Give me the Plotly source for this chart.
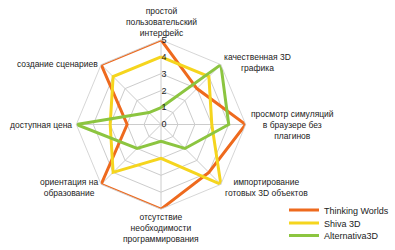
import plotly.graph_objects as go

categories = [
    "простой<br>пользовательский<br>интерфейс",
    "качественная 3D<br>графика",
    "просмотр симуляций<br>в браузере без<br>плагинов",
    "импортирование<br>готовых 3D объектов",
    "отсутствие<br>необходимости<br>программирования",
    "ориентация на<br>образование",
    "доступная цена",
    "создание сценариев",
]
series_names = ["Thinking Worlds", "Shiva 3D", "Alternativa3D"]
thinking_worlds = [5, 3, 5, 4, 5, 5, 2, 5]
shiva_3d = [4, 4, 3, 5, 2, 4, 3, 4]
alternativa_3d = [1, 5, 4, 2, 1, 2, 5, 1]
radial_ticks = [0, 1, 2, 3, 4, 5]

colors = ["#EE6A1E", "#F5D51E", "#8CC540"]
theta_ids = [f"c{i}" for i in range(len(categories))]
legend_ids = ["legend", "legend2", "legend3"]

fig = go.Figure()
for name, vals, col, lg in zip(series_names, [thinking_worlds, shiva_3d, alternativa_3d], colors, legend_ids):
    fig.add_trace(go.Scatterpolar(
        r=vals + vals[:1], theta=theta_ids + theta_ids[:1], mode="lines", name=name,
        line=dict(color=col, width=3), hoverinfo="skip", legend=lg, showlegend=True))

W, H = 395, 250
label_pos = [
    (161, 22), (257, 63), (292, 126), (266, 188),
    (161, 229), (69, 188), (41, 126), (57, 64),
]
for text, (px, py) in zip(categories, label_pos):
    fig.add_annotation(x=px / W, y=1 - py / H, xref="paper", yref="paper", text=text,
                       showarrow=False, font=dict(family="Liberation Sans, Arial", size=8.5, color="#222"),
                       align="center", xanchor="center", yanchor="middle")

cx, cy, R = 161, 125, 85
legend_y = [210, 223, 236]
leg_common = dict(xanchor="left", yanchor="middle", font=dict(size=9, color="#222"),
                  bgcolor="rgba(0,0,0,0)", itemwidth=30)
fig.update_layout(
    width=W, height=H, margin=dict(l=0, r=0, t=0, b=0), showlegend=True,
    paper_bgcolor="white", plot_bgcolor="white",
    font=dict(family="Liberation Sans, Arial", size=9, color="#222"),
    polar=dict(
        domain=dict(x=[(cx - R) / W, (cx + R) / W], y=[1 - (cy + R) / H, 1 - (cy - R) / H]),
        bgcolor="white", gridshape="linear",
        radialaxis=dict(range=[0, 5], tickvals=radial_ticks, angle=90, tickangle=90,
                        side="clockwise", showline=False, gridcolor="#CCCCCC", gridwidth=0.8,
                        ticks="", tickfont=dict(size=9, color="#222")),
        angularaxis=dict(direction="clockwise", rotation=90, showticklabels=False, ticks="",
                         gridcolor="#CCCCCC", gridwidth=0.8, linecolor="#CCCCCC", linewidth=0.8,
                         categoryorder="array", categoryarray=theta_ids),
    ),
    legend=dict(x=284 / W, y=1 - legend_y[0] / H, **leg_common),
    legend2=dict(x=284 / W, y=1 - legend_y[1] / H, **leg_common),
    legend3=dict(x=284 / W, y=1 - legend_y[2] / H, **leg_common),
)
fig.write_html("out.html")
